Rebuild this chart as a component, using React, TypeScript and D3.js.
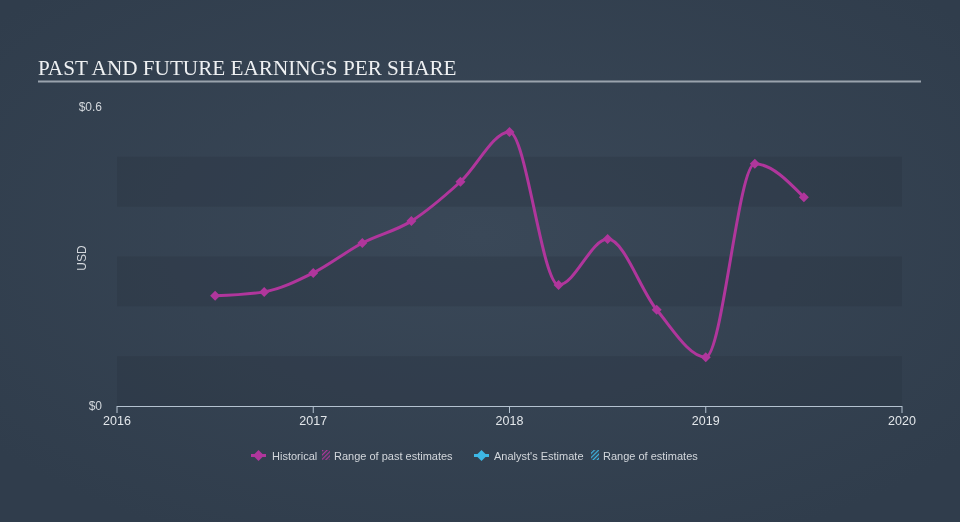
import React from "react";
import * as d3 from "d3";

const dates = [2016.5, 2016.75, 2017.0, 2017.25, 2017.5, 2017.75, 2018.0, 2018.25, 2018.5, 2018.75, 2019.0, 2019.25, 2019.5];
const eps = [0.221, 0.229, 0.267, 0.327, 0.371, 0.45, 0.55, 0.243, 0.335, 0.193, 0.098, 0.486, 0.419];
const xTicks = [2016, 2017, 2018, 2019, 2020];
const yTickLabels = [
  { v: 0, label: "$0" },
  { v: 0.6, label: "$0.6" },
];
const bands = [
  [0, 0.1],
  [0.2, 0.3],
  [0.4, 0.5],
];

const W = 960;
const H = 522;
const LINE = "#b0369c";
const FONT = "'Liberation Sans', Arial, sans-serif";

export default function App() {
  const x = d3.scaleLinear().domain([2016, 2020]).range([117, 902]);
  const y = d3.scaleLinear().domain([0, 0.6]).range([406, 107]);
  const pts = dates.map((d, i) => [x(d), y(eps[i])] as [number, number]);
  const line = d3.line().curve(d3.curveMonotoneX)(pts) || "";
  const diamondSquare = (cx: number, cy: number, s: number) =>
    `M${cx},${cy - s}L${cx + s},${cy}L${cx},${cy + s}L${cx - s},${cy}Z`;

  return (
    <div style={{ position: "fixed", left: 0, top: 0, width: W, height: H }}>
      <svg width={W} height={H} style={{ display: "block" }}>
        <defs>
          <radialGradient id="bg" cx="50%" cy="45%" r="65%">
            <stop offset="0%" stopColor="#3a4858" />
            <stop offset="100%" stopColor="#303d4c" />
          </radialGradient>
          <pattern id="hatchP" width="3" height="3" patternUnits="userSpaceOnUse" patternTransform="rotate(45)">
            <rect width="1.2" height="3" fill={LINE} />
          </pattern>
          <pattern id="hatchB" width="3" height="3" patternUnits="userSpaceOnUse" patternTransform="rotate(45)">
            <rect width="1.2" height="3" fill="#3db8e6" />
          </pattern>
        </defs>
        <rect width={W} height={H} fill="url(#bg)" />
        {bands.map(([a, b], i) => (
          <rect key={i} x={117} width={785} y={y(b)} height={y(a) - y(b)} fill="#27323f" opacity={0.3} />
        ))}
        <text x={38} y={75} fontFamily="'Liberation Serif', 'Times New Roman', serif" fontSize={21.2} fill="#eef0f2">
          PAST AND FUTURE EARNINGS PER SHARE
        </text>
        <rect x={38} y={80.5} width={883} height={2} fill="#9aa3ad" />
        {yTickLabels.map((t) => (
          <text key={t.label} x={102} y={y(t.v) + 4} textAnchor="end" fontFamily={FONT} fontSize={12} fill="#d3d7dc">
            {t.label}
          </text>
        ))}
        <text
          transform={`translate(86,258) rotate(-90)`}
          textAnchor="middle"
          fontFamily={FONT}
          fontSize={12}
          fill="#d3d7dc"
        >
          USD
        </text>
        <line x1={117} x2={902} y1={406.5} y2={406.5} stroke="#b4c2d0" strokeWidth={1} />
        {xTicks.map((t) => (
          <g key={t}>
            <line x1={x(t)} x2={x(t)} y1={406} y2={413} stroke="#b4c2d0" strokeWidth={1} />
            <text x={x(t)} y={425} textAnchor="middle" fontFamily={FONT} fontSize={12.5} fill="#e2e6ea">
              {t}
            </text>
          </g>
        ))}
        <path d={line} fill="none" stroke={LINE} strokeWidth={3} />
        {pts.map(([px, py], i) => (
          <path key={i} d={diamondSquare(px, py, 5)} fill={LINE} />
        ))}
        {/* legend */}
        <g fontFamily={FONT} fontSize={11} fill="#d3d7dc">
          <line x1={251} x2={266} y1={455.5} y2={455.5} stroke={LINE} strokeWidth={3} />
          <path d={diamondSquare(258.5, 455.5, 5.5)} fill={LINE} />
          <text x={272} y={459.5}>Historical</text>
          <rect x={322} y={450} width={8} height={10} fill="url(#hatchP)" />
          <text x={334} y={459.5}>Range of past estimates</text>
          <line x1={474} x2={489} y1={455.5} y2={455.5} stroke="#3db8e6" strokeWidth={3} />
          <path d={diamondSquare(481.5, 455.5, 5.5)} fill="#3db8e6" />
          <text x={494} y={459.5}>Analyst's Estimate</text>
          <rect x={591} y={450} width={8} height={10} fill="url(#hatchB)" />
          <text x={603} y={459.5}>Range of estimates</text>
        </g>
      </svg>
    </div>
  );
}
